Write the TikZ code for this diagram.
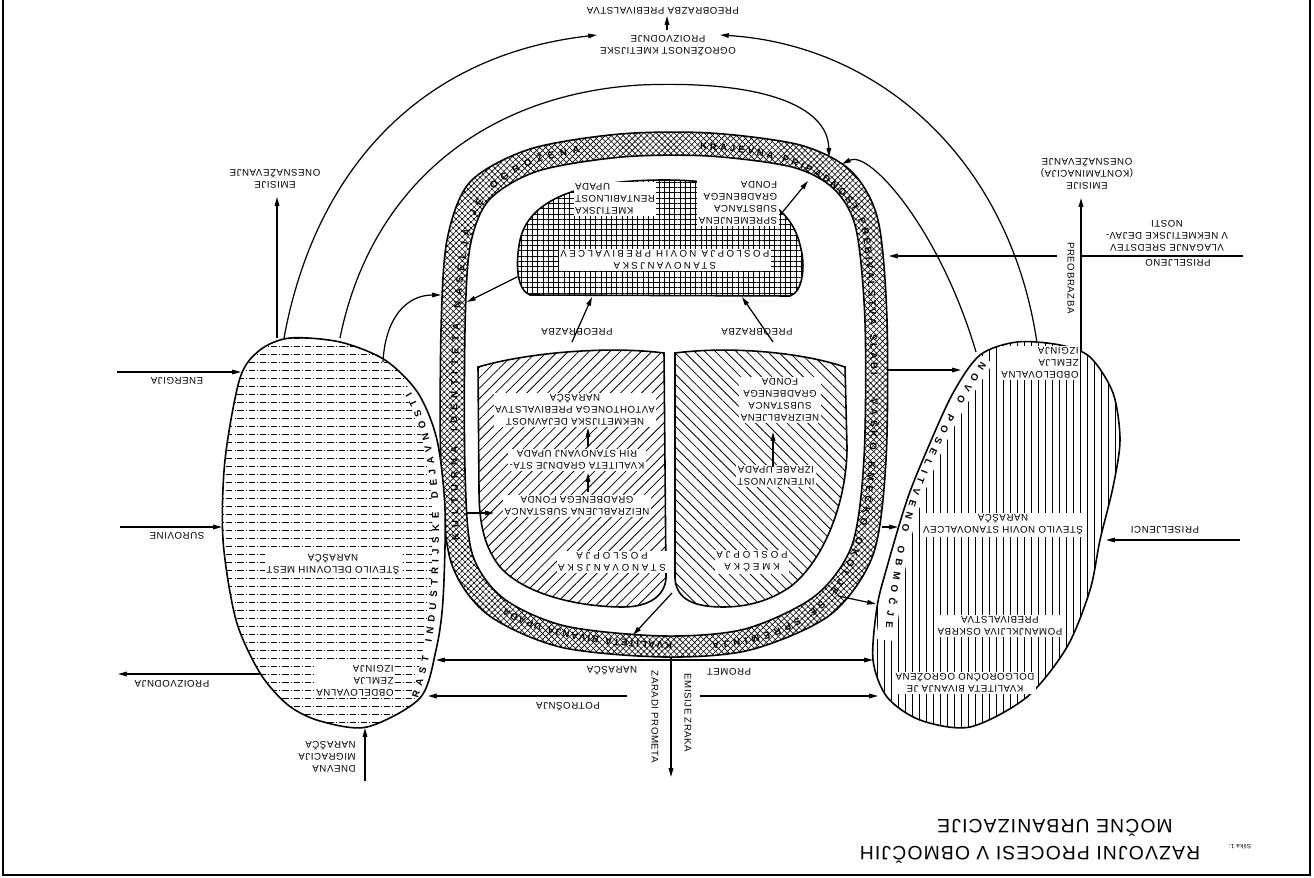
\documentclass[tikz,border=0pt]{standalone}
\usepackage{fontspec}
\setsansfont{Liberation Sans}[LetterSpace=6]
\usetikzlibrary{patterns,patterns.meta,decorations.text,arrows.meta}

\newcommand{\ringfont}{\sffamily\bfseries\fontsize{5.5}{6}\selectfont}

\tikzset{
  lbl/.style={rotate=180,font=\sffamily\fontsize{5.5}{6.8}\selectfont,align=center,inner sep=0.8pt},
  wlbl/.style={lbl,fill=white},
  vlbl/.style={rotate=-90,font=\sffamily\fontsize{5.5}{6.8}\selectfont,inner sep=0.8pt},
  flow/.style={-{Triangle[length=5pt,width=2.6pt]},line width=0.7pt},
  twoway/.style={{Triangle[length=5pt,width=2.6pt]}-{Triangle[length=5pt,width=2.6pt]},line width=0.7pt},
  outline/.style={line width=0.9pt},
  ringtext/.style={decorate,decoration={text along path,text align={fit to path},text={|\ringfont|#1}}},
}

\begin{document}
\begin{tikzpicture}[x=0.02cm,y=-0.02cm]
\useasboundingbox (0,0) rectangle (1314,878);

% frame of the page
\draw[line width=1.2pt] (3,0) -- (3,875) -- (1310,875) -- (1310,0);

% ring round the settlement
\draw[outline,pattern={Hatch[angle=45,distance=2.4pt,line width=0.35pt]},even odd rule]
  plot[smooth cycle] coordinates {(664,657) (560,647) (487,614) (451,562) (441,470) (441,330) (447,240) (470,182) (530,149) (620,134) (710,133) (800,145) (851,171) (878,220) (887,320) (886,460) (873,555) (830,615) (750,650)}
  plot[smooth cycle] coordinates {(664,636) (565,626) (503,598) (472,553) (465,470) (465,330) (470,247) (489,200) (538,171) (622,157) (708,156) (792,167) (834,189) (856,229) (865,322) (864,458) (852,545) (815,596) (745,629)};

\path[ringtext={KVALITETA BIVANJA UPADA}] (672,642) .. controls (605,641) and (540,630) .. (505,608);
\path[ringtext={KULTURNA IDENTITETA NASELJA JE OGROŽENA}] (459,540) .. controls (456,420) and (456,290) .. (471,228) .. controls (483,185) and (525,160) .. (580,153);
\path[ringtext={KRAJEVNA PRIPADNOST PREBIVALSTVA SLABI}] (700,150) .. controls (790,152) and (845,180) .. (862,230) .. controls (869,270) and (870,320) .. (871,375);
\path[ringtext={VAŠKO KMEČKO OKOLJE SE SPREMINJA}] (871,398) .. controls (871,500) and (858,565) .. (822,600) .. controls (795,625) and (760,638) .. (712,642);

% industrial zone (left)
\path[save path=\leftblob] plot[smooth cycle] coordinates {(290,338) (340,342) (385,360) (418,393) (437,440) (445,510) (443,600) (436,650) (420,698) (367,727) (320,721) (288,705) (260,673) (236,620) (223,540) (225,460) (240,378) (260,350)};
\begin{scope}
  \clip[use path=\leftblob];
  \foreach \yy in {338,346,...,730}
    \draw[line width=0.5pt,dash pattern=on 3.5pt off 1.2pt on 0.5pt off 1.2pt] (215,\yy) -- (450,\yy);
  \draw[white,line width=11pt] (420,700) .. controls (436,650) and (442,600) .. (442,530) .. controls (442,470) and (432,420) .. (410,385);
\end{scope}
\draw[outline,use path=\leftblob];
\path[ringtext={RAST INDUSTRIJSKE DEJAVNOSTI}] (418,698) .. controls (434,650) and (439,600) .. (439,530) .. controls (439,470) and (430,425) .. (411,392);

% new housing area (right)
\path[save path=\rightblob] plot[smooth cycle] coordinates {(1017,342) (1060,345) (1090,357) (1113,393) (1120,440) (1113,487) (1100,540) (1090,590) (1067,647) (1027,697) (970,727) (920,720) (887,697) (873,660) (877,607) (887,567) (907,500) (927,450) (953,393) (980,355)};
\begin{scope}
  \clip[use path=\rightblob];
  \foreach \xx in {870,877,...,1125}
    \draw[line width=0.5pt] (\xx,335) -- (\xx,730);
  \draw[white,line width=11pt] (985,358) .. controls (942,420) and (908,490) .. (897,560) .. controls (892,590) and (888,620) .. (886,640);
\end{scope}
\draw[outline,use path=\rightblob];
\path[ringtext={NOVO POSELITVENO OBMOČJE}] (981,362) .. controls (940,422) and (906,490) .. (896,560) .. controls (891,590) and (887,610) .. (886,628);

% inner areas
\draw[outline,pattern={Hatch[angle=0,distance=3pt,line width=0.4pt]}] (530,295) -- (790,296) .. controls (803,292) and (806,265) .. (800,245) .. controls (790,200) and (740,180) .. (665,180) .. controls (590,180) and (530,195) .. (520,240) .. controls (515,265) and (517,290) .. (530,295) -- cycle;
\draw[outline,pattern={Lines[angle=45,distance=4.2pt,line width=0.45pt]}] (478,367) .. controls (530,352) and (610,346) .. (664,353) -- (666,578) .. controls (665,595) and (650,607) .. (623,607) .. controls (580,607) and (525,595) .. (500,567) .. controls (485,548) and (479,525) .. (479,490) -- cycle;
\draw[outline,pattern={Lines[angle=-45,distance=4.2pt,line width=0.45pt]}] (675,353) .. controls (730,346) and (800,352) .. (845,367) -- (847,447) .. controls (847,500) and (825,560) .. (790,587) .. controls (768,602) and (745,607) .. (723,607) .. controls (695,607) and (676,600) .. (675,578) -- cycle;

% texts in the inner areas
\node[wlbl] (stnov) at (665,260) {\addfontfeature{LetterSpace=25}STANOVANJSKA\\\addfontfeature{LetterSpace=25}POSLOPJA NOVIH PREBIVALCEV};
\node[wlbl,align=left] (sprem) at (738,203) {SPREMENJENA\\SUBSTANCA\\GRADBENEGA\\FONDA};
\node[wlbl,align=right] (kmet) at (615,199) {KMETIJSKA\\RENTABILNOST\\UPADA};
\node[lbl] (preL) at (577,332) {PREOBRAZBA};
\node[lbl] (preR) at (757,332) {PREOBRAZBA};
\node[wlbl] (nekm) at (575,410) {NEKMETIJSKA DEJAVNOST\\AVTOHTONEGA PREBIVALSTVA\\NARAŠČA};
\node[wlbl] (kval) at (577,460) {KVALITETA GRADNJE STA-\\RIH STANOVANJ UPADA};
\node[wlbl] (neizL) at (577,506) {NEIZRABLJENA SUBSTANCA\\GRADBENEGA FONDA};
\node[wlbl] (stpos) at (612,562) {\addfontfeature{LetterSpace=30}STANOVANJSKA\\\addfontfeature{LetterSpace=30}POSLOPJA};
\node[wlbl] (neizR) at (780,400) {NEIZRABLJENA\\SUBSTANCA\\GRADBENEGA\\FONDA};
\node[wlbl] (inten) at (776,476) {INTENZIVNOST\\IZRABE UPADA};
\node[wlbl] (kmpos) at (752,562) {\addfontfeature{LetterSpace=30}KMEČKA\\\addfontfeature{LetterSpace=30}POSLOPJA};

% texts in the two zones
\node[wlbl] (delm) at (333,565) {ŠTEVILO DELOVNIH MEST\\NARAŠČA};
\node[wlbl,align=left] (zemL) at (355,681) {OBDELOVALNA\\ZEMLJA\\IZGINJA};
\node[wlbl,align=left] (zemR) at (1040,363) {OBDELOVALNA\\ZEMLJA\\IZGINJA};
\node[wlbl] (stan) at (1003,525) {ŠTEVILO NOVIH STANOVALCEV\\NARAŠČA};
\node[wlbl] (oskr) at (1000,626) {POMANJKLJIVA OSKRBA\\PREBIVALSTVA};
\node[wlbl] (bivJ) at (965,683) {KVALITETA BIVANJA JE\\DOLGOROČNO OGROŽENA};

% texts outside
\node[lbl] (tEn) at (177,381) {ENERGIJA};
\node[lbl] (tSu) at (177,536) {SUROVINE};
\node[lbl] (tPr) at (172,684) {PROIZVODNJA};
\node[lbl,align=left] (tDn) at (327,757) {DNEVNA\\MIGRACIJA\\NARAŠČA};
\node[lbl] (tEmL) at (275,179) {EMISIJE\\ONESNAŽEVANJE};
\node[lbl] (tEmR) at (1087,174) {EMISIJE\\(KONTAMINACIJA)\\ONESNAŽEVANJE};
\node[lbl] (tPrs) at (1178,263) {PRISELJENO};
\node[lbl] (tVlg) at (1167,236) {VLAGANJE SREDSTEV\\V NEKMETIJSKE DEJAV-\\NOSTI};
\node[vlbl] (tPob) at (1071,278) {PREOBRAZBA};
\node[lbl] (tPrc) at (1165,530) {PRISELJENCI};
\node[lbl] (tTop) at (663,11) {PREOBRAZBA PREBIVALSTVA};
\node[lbl] (tOgr) at (668,46) {OGROŽENOST KMETIJSKE\\PROIZVODNJE};
\node[lbl] (tNar) at (612,671) {NARAŠČA};
\node[lbl] (tPrm) at (729,672) {PROMET};
\node[lbl] (tPot) at (568,707) {POTROŠNJA};
\node[vlbl] (tZar) at (655,717) {ZARADI PROMETA};
\node[vlbl] (tZrk) at (688,713) {EMISIJE ZRAKA};

% caption
\node[rotate=180,font=\sffamily\fontsize{11}{13}\selectfont,inner sep=0pt] (cap1) at (1030,855) {RAZVOJNI PROCESI V OBMOČJIH};
\node[rotate=180,font=\sffamily\fontsize{11}{13}\selectfont,inner sep=0pt] (cap2) at (1055,828) {MOČNE URBANIZACIJE};
\node[rotate=180,font=\sffamily\fontsize{3.5}{4}\selectfont,inner sep=0pt] (capN) at (1240,847) {Slika 1:};

% end points of the connectors
\coordinate (enS) at (117,372);  \coordinate (enE) at (241,372);
\coordinate (suS) at (120,527);  \coordinate (suE) at (222,527);
\coordinate (pzS) at (260,674);  \coordinate (pzE) at (118,674);
\coordinate (dnS) at (365,781);  \coordinate (dnE) at (365,728);
\coordinate (emS) at (277,338);  \coordinate (emE) at (277,197);
\coordinate (olS) at (284,338);  \coordinate (olE) at (597,35);
\coordinate (ilS) at (340,338);  \coordinate (ilE) at (829,157);
\coordinate (lpS) at (383,362);  \coordinate (lpE) at (441,295);
\coordinate (orS) at (1037,343); \coordinate (orE) at (720,35);
\coordinate (irS) at (976,352);  \coordinate (irE) at (842,164);
\coordinate (tvS) at (667,30);   \coordinate (tvE) at (667,16);
\coordinate (vgS) at (1243,256); \coordinate (vgM) at (1082,256);
\coordinate (vgN) at (1057,256); \coordinate (vgE) at (889,256);
\coordinate (erS) at (1081,352); \coordinate (erE) at (1081,198);
\coordinate (pcS) at (1240,540); \coordinate (pcE) at (1106,540);
\coordinate (r1S) at (887,370);  \coordinate (r1E) at (961,370);
\coordinate (r2S) at (882,527);  \coordinate (r2E) at (898,527);
\coordinate (r3S) at (838,596);  \coordinate (r3E) at (876,604);
\coordinate (pmL) at (436,660);  \coordinate (pmR) at (873,660);
\coordinate (poS) at (627,696);  \coordinate (poE) at (428,696);
\coordinate (p2S) at (700,696);  \coordinate (p2E) at (878,696);
\coordinate (zrS) at (671,657);  \coordinate (zrE) at (671,777);
\coordinate (g1S) at (519,276);  \coordinate (g1E) at (467,302);
\coordinate (g2S) at (466,513);  \coordinate (g2E) at (494,513);
\coordinate (g3S) at (781,214);  \coordinate (g3E) at (808,181);
\coordinate (pLS) at (572,342);  \coordinate (pLE) at (592,297);
\coordinate (pRS) at (773,342);  \coordinate (pRE) at (742,297);
\coordinate (a1S) at (588,492);  \coordinate (a1E) at (588,473);
\coordinate (a2S) at (588,447);  \coordinate (a2E) at (588,428);
\coordinate (a3S) at (773,467);  \coordinate (a3E) at (773,432);
\coordinate (kmS) at (672,593);  \coordinate (kmE) at (633,635);

% connectors
\draw[flow] (enS) -- (enE);
\draw[flow] (suS) -- (suE);
\draw[flow] (pzS) -- (pzE);
\draw[flow] (dnS) -- (dnE);
\draw[flow] (emS) -- (emE);
\draw[flow] (olS) .. controls (315,170) and (420,55) .. (olE);
\draw[flow] (ilS) .. controls (370,190) and (480,95) .. (640,85) .. controls (760,80) and (828,105) .. (ilE);
\draw[flow] (lpS) .. controls (385,320) and (405,295) .. (lpE);
\draw[flow] (orS) .. controls (1010,160) and (880,45) .. (orE);
\draw[flow] (irS) .. controls (940,230) and (870,150) .. (irE);
\draw[flow] (tvS) -- (tvE);
\draw[line width=0.7pt] (vgS) -- (vgM);
\draw[flow] (vgN) -- (vgE);
\draw[flow] (erS) -- (erE);
\draw[flow] (pcS) -- (pcE);
\draw[flow] (r1S) -- (r1E);
\draw[flow] (r2S) -- (r2E);
\draw[flow] (r3S) -- (r3E);
\draw[twoway] (pmL) -- (pmR);
\draw[flow] (poS) -- (poE);
\draw[flow] (p2S) -- (p2E);
\draw[flow] (zrS) -- (zrE);
\draw[flow] (g1S) -- (g1E);
\draw[flow] (g2S) -- (g2E);
\draw[flow] (g3S) -- (g3E);
\draw[flow] (pLS) -- (pLE);
\draw[flow] (pRS) -- (pRE);
\draw[flow] (a1S) -- (a1E);
\draw[flow] (a2S) -- (a2E);
\draw[flow] (a3S) -- (a3E);
\draw[flow] (kmS) -- (kmE);

\end{tikzpicture}
\end{document}
